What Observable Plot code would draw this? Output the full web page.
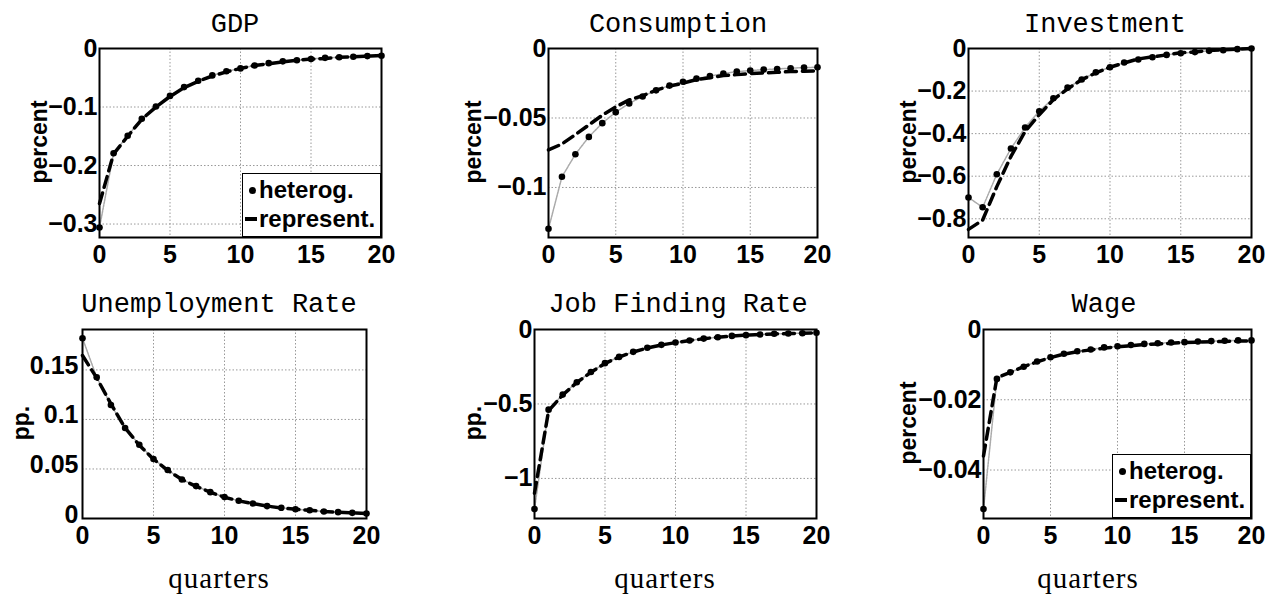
<!DOCTYPE html>
<html><head><meta charset="utf-8">
<script src="https://cdn.jsdelivr.net/npm/d3@7"></script>
<script src="https://cdn.jsdelivr.net/npm/@observablehq/plot@0.6"></script>
<style>
body{margin:0;background:#fff;}
#wrap{position:relative;width:1267px;height:598px;overflow:hidden;background:#fff;}
.t{position:absolute;font-family:"Liberation Mono",monospace;font-size:27px;transform:translate(-50%,-50%);white-space:nowrap;color:#000;line-height:1}
.yl{position:absolute;font-family:"Liberation Sans",Arial,sans-serif;font-weight:bold;font-size:23px;transform:translate(-50%,-50%) rotate(-90deg);white-space:nowrap;line-height:1}
.xl{position:absolute;font-family:"Liberation Serif",serif;font-size:29px;letter-spacing:1px;transform:translate(-50%,-50%);white-space:nowrap;line-height:1}
.lg{position:absolute;border:1.5px solid #000;background:#fff;box-sizing:border-box;font-family:"Liberation Sans",Arial,sans-serif;font-weight:bold;font-size:24px;color:#000}
</style></head>
<body><div id="wrap"></div>
<script>
// ---- data ----
const quarters = [0,1,2,3,4,5,6,7,8,9,10,11,12,13,14,15,16,17,18,19,20];
const xTicks = [0,5,10,15,20];
const seriesNames = ["heterog.","represent."];
const titles = ["GDP","Consumption","Investment","Unemployment Rate","Job Finding Rate","Wage"];
const yLabels = ["percent","percent","percent","pp.","pp.","percent"];
const xLabel = "quarters";

const gdpHet  = [-0.306,-0.179,-0.149,-0.120,-0.099,-0.081,-0.066,-0.055,-0.046,-0.039,-0.034,-0.029,-0.025,-0.022,-0.020,-0.018,-0.016,-0.015,-0.014,-0.013,-0.0125];
const gdpRep  = [-0.265,-0.180,-0.150,-0.121,-0.100,-0.082,-0.067,-0.056,-0.047,-0.040,-0.034,-0.029,-0.026,-0.023,-0.020,-0.018,-0.017,-0.015,-0.014,-0.013,-0.012];
const consHet = [-0.1297,-0.0923,-0.0761,-0.0636,-0.0537,-0.0458,-0.0395,-0.0345,-0.0301,-0.0267,-0.0239,-0.0217,-0.0198,-0.0181,-0.0166,-0.0159,-0.0152,-0.0147,-0.0142,-0.0137,-0.0135];
const consRep = [-0.073,-0.0687,-0.062,-0.055,-0.048,-0.042,-0.037,-0.034,-0.030,-0.027,-0.025,-0.0224,-0.021,-0.0195,-0.0188,-0.018,-0.0176,-0.0171,-0.0166,-0.0164,-0.016];
const invHet  = [-0.70,-0.746,-0.591,-0.470,-0.371,-0.295,-0.234,-0.184,-0.146,-0.112,-0.088,-0.066,-0.052,-0.041,-0.030,-0.022,-0.017,-0.011,-0.008,-0.003,0];
const invRep  = [-0.85,-0.806,-0.649,-0.507,-0.390,-0.311,-0.240,-0.190,-0.146,-0.115,-0.088,-0.068,-0.049,-0.039,-0.030,-0.020,-0.016,-0.009,-0.006,-0.003,0];
const unHet   = [0.182,0.1426,0.1146,0.0914,0.0745,0.060,0.0489,0.0394,0.0327,0.0266,0.0216,0.0179,0.0152,0.0125,0.0108,0.0094,0.0084,0.0071,0.0064,0.0057,0.0051];
const unRep   = [0.1645,0.142,0.1157,0.0914,0.074,0.0598,0.0487,0.0393,0.0325,0.0265,0.0215,0.0178,0.0151,0.0125,0.0107,0.0093,0.0083,0.0071,0.0063,0.0057,0.0051];
const jfHet   = [-1.206,-0.538,-0.437,-0.354,-0.285,-0.226,-0.184,-0.150,-0.123,-0.103,-0.087,-0.074,-0.061,-0.052,-0.043,-0.038,-0.034,-0.029,-0.027,-0.025,-0.022];
const jfRep   = [-1.10,-0.545,-0.440,-0.356,-0.287,-0.228,-0.185,-0.151,-0.124,-0.104,-0.088,-0.074,-0.062,-0.052,-0.044,-0.038,-0.034,-0.030,-0.027,-0.025,-0.023];
const wageHet = [-0.0511,-0.01406,-0.0122,-0.0106,-0.0091,-0.0079,-0.0069,-0.0062,-0.0057,-0.0051,-0.0048,-0.0044,-0.0041,-0.0039,-0.0037,-0.0036,-0.0034,-0.0033,-0.0032,-0.0031,-0.0031];
const wageRep = [-0.036,-0.0137,-0.0122,-0.0106,-0.0092,-0.008,-0.007,-0.0063,-0.0058,-0.0053,-0.0049,-0.0046,-0.0043,-0.0041,-0.0039,-0.0037,-0.0036,-0.0035,-0.0034,-0.0033,-0.0033];

const gdpTicks  = [0,-0.1,-0.2,-0.3];
const consTicks = [0,-0.05,-0.1];
const invTicks  = [0,-0.2,-0.4,-0.6,-0.8];
const unTicks   = [0,0.05,0.1,0.15];
const jfTicks   = [0,-0.5,-1];
const wageTicks = [0,-0.02,-0.04];

// ---- layout ----
const panels = [
  {het:gdpHet, rep:gdpRep, ticks:gdpTicks, domain:[-0.323,0], L:99, R:381, T:48, B:237, tx:235, ty:25, ylx:39, yly:142, legend:[242,173]},
  {het:consHet, rep:consRep, ticks:consTicks, domain:[-0.136,0], L:548, R:817, T:48, B:237, tx:678, ty:25, ylx:473, yly:142},
  {het:invHet, rep:invRep, ticks:invTicks, domain:[-0.888,0], L:968, R:1251, T:48, B:237, tx:1105, ty:25, ylx:908, yly:142},
  {het:unHet, rep:unRep, ticks:unTicks, domain:[0,0.1908], L:82, R:366, T:329, B:518, tx:219, ty:305, ylx:21, yly:423, xlx:219, ydy:-4, ypad:4},
  {het:jfHet, rep:jfRep, ticks:jfTicks, domain:[-1.269,0], L:534, R:816, T:329, B:518, tx:678, ty:305, ylx:473, yly:423, xlx:665},
  {het:wageHet, rep:wageRep, ticks:wageTicks, domain:[-0.0538,0], L:983, R:1251, T:329, B:518, tx:1104, ty:305, ylx:908, yly:423, xlx:1088, legend:[1112,454]}
];

const wrap = document.getElementById("wrap");
const fmt = d => (d < 0 ? "\u2212" : "") + String(+Math.abs(d).toFixed(4));

function addText(cls, txt, x, y){
  const el = document.createElement("div");
  el.className = cls; el.textContent = txt;
  el.style.left = x + "px"; el.style.top = y + "px";
  wrap.appendChild(el);
}

panels.forEach((cfg, k) => {
  const rows = quarters.map((q, i) => ({q, het: cfg.het[i], rep: cfg.rep[i]}));
  const mL = 90, mR = 12, mT = 12, mB = 40;
  const W = cfg.R - cfg.L, H = cfg.B - cfg.T;
  const p = Plot.plot({
    width: W + mL + mR, height: H + mT + mB,
    marginLeft: mL, marginRight: mR, marginTop: mT, marginBottom: mB,
    x: {domain: [0, 20], label: null},
    y: {domain: cfg.domain, label: null},
    style: {background: "transparent", overflow: "visible", fontFamily: "Liberation Sans, Arial, sans-serif", color: "black"},
    marks: [
      Plot.gridX(xTicks, {stroke: "#999", strokeOpacity: 1, strokeWidth: 1, strokeDasharray: "1.5,2"}),
      Plot.gridY(cfg.ticks, {stroke: "#999", strokeOpacity: 1, strokeWidth: 1, strokeDasharray: "1.5,2"}),
      Plot.line(rows, {x: "q", y: "het", stroke: "#aaa", strokeWidth: 1.5, strokeDasharray: "2,1"}),
      Plot.line(rows, {x: "q", y: "rep", stroke: "black", strokeWidth: 3.5, strokeDasharray: "11,6"}),
      Plot.dot(rows, {x: "q", y: "het", r: 3.3, fill: "black"}),
      Plot.frame({stroke: "black", strokeWidth: 2}),
      Plot.axisX(xTicks, {tickSize: 0, tickPadding: 8, fontSize: 25, fontWeight: "bold", label: null, tickFormat: d => String(d)}),
      Plot.axisY(cfg.ticks, {tickSize: 0, tickPadding: cfg.ypad ?? 2, dy: cfg.ydy ?? 0, fontSize: 25, fontWeight: "bold", label: null, tickFormat: fmt})
    ]
  });
  p.style.position = "absolute";
  p.style.left = (cfg.L - mL) + "px";
  p.style.top = (cfg.T - mT) + "px";
  p.style.maxWidth = "none";
  wrap.appendChild(p);

  addText("t", titles[k], cfg.tx, cfg.ty);
  addText("yl", yLabels[k], cfg.ylx, cfg.yly);
  if (cfg.xlx !== undefined) addText("xl", xLabel, cfg.xlx, 578);

  if (cfg.legend) {
    const lg = document.createElement("div");
    lg.className = "lg";
    lg.style.left = cfg.legend[0] + "px"; lg.style.top = cfg.legend[1] + "px";
    lg.style.width = "139px"; lg.style.height = "64px";
    lg.innerHTML =
      '<div style="position:absolute;left:6px;top:13px;width:7px;height:7px;border-radius:50%;background:#000"></div>' +
      '<div style="position:absolute;left:16px;top:2px;line-height:28px">' + seriesNames[0] + '</div>' +
      '<div style="position:absolute;left:2px;top:43px;width:12px;height:4px;background:#000"></div>' +
      '<div style="position:absolute;left:16px;top:31px;line-height:28px">' + seriesNames[1] + '</div>';
    wrap.appendChild(lg);
  }
});
</script>
</body></html>
